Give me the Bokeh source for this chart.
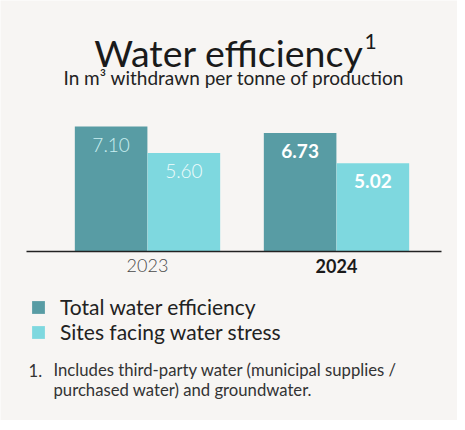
from bokeh.plotting import figure
from bokeh.models import ColumnDataSource, Range1d, Label, Legend, LegendItem
from bokeh.core.properties import value
from bokeh.embed import file_html
from bokeh.resources import INLINE

# ---- data ----
years = ["2023", "2024"]
series = ["Total water efficiency", "Sites facing water stress"]
total = [7.10, 6.73]
stress = [5.60, 5.02]
colors = ["#589ca4", "#7ed8df"]

FONT = "Lato"
BG = "#f7f5f3"

W, H = 457, 420
px_unit_x = 189.0
grp0 = 147.0
px_unit_y = 17.6
base_y = 251.0

p = figure(width=W, height=H, output_backend="svg", toolbar_location=None,
           x_range=Range1d(-grp0 / px_unit_x, (W - grp0) / px_unit_x),
           y_range=Range1d(-(H - base_y) / px_unit_y, base_y / px_unit_y),
           min_border=0, min_border_left=0, min_border_right=0,
           min_border_top=0, min_border_bottom=0)
p.axis.visible = False
p.grid.visible = False
p.outline_line_color = None
p.background_fill_color = BG
p.border_fill_color = BG

xs = list(range(len(years)))
bw = 0.384
dx = 0.1925
src = ColumnDataSource(dict(
    x=xs, years=years, total=total, stress=stress,
    x_t=[x - dx for x in xs], x_s=[x + dx for x in xs],
    lab_t=[f"{v:.2f}" for v in total], lab_s=[f"{v:.2f}" for v in stress],
    col_t=["#c9eef0", "#ffffff"], col_s=["#f0fcfc", "#ffffff"],
    style=["normal", "bold"], ycol=["#4a4a4a", "#1a1a1a"],
    fonts=["Lato Light", "Lato"],
    zero=[0] * len(years),
))

r1 = p.vbar(x="x_t", top="total", width=bw, source=src, color=colors[0], line_color=None)
r2 = p.vbar(x="x_s", top="stress", width=bw, source=src, color=colors[1], line_color=None)

p.text(x="x_t", y="total", text="lab_t", source=src, text_align="center",
       text_baseline="middle", y_offset=18, text_font="fonts", text_font_size="19px",
       text_color="col_t", text_font_style="style")
p.text(x="x_s", y="stress", text="lab_s", source=src, text_align="center",
       text_baseline="middle", y_offset=18, text_font="fonts", text_font_size="19px",
       text_color="col_s", text_font_style="style")

# axis baseline
p.segment(x0=[(26 - grp0) / px_unit_x], x1=[(441 - grp0) / px_unit_x], y0=[0], y1=[0],
          line_color="#222222", line_width=1.5)

# year labels
p.text(x="x", y="zero", text="years", source=src, text_align="center",
       text_baseline="middle", y_offset=14, text_font="fonts", text_font_size="18px",
       text_color="ycol", text_font_style="style")

# titles
p.add_layout(Label(x=363, y=H - 51.5, x_units="screen", y_units="screen",
                   text="Water efficiency", text_align="right",
                   text_baseline="alphabetic", text_font=FONT, text_font_size="37.5px",
                   text_color="#1a1a1a"))
p.add_layout(Label(x=364, y=H - 41, x_units="screen", y_units="screen",
                   text="1", text_align="left",
                   text_baseline="alphabetic", text_font=FONT, text_font_size="21px",
                   text_color="#1a1a1a"))
p.add_layout(Label(x=233.5, y=H - 77, x_units="screen", y_units="screen",
                   text="In m\u00b3 withdrawn per tonne of production", text_align="center",
                   text_baseline="alphabetic", text_font=FONT, text_font_size="19px",
                   text_color="#222222"))

# legend (one entry per legend box, to control the tight line pitch)
leg_style = dict(orientation="vertical", glyph_width=16, glyph_height=16,
                 label_standoff=14, label_text_font=FONT, label_text_font_size="21px",
                 label_text_line_height=1.0, label_text_color="#222222",
                 spacing=0, padding=0, margin=0, background_fill_alpha=0,
                 border_line_color=None, label_height=16)
legend1 = Legend(items=[LegendItem(label=series[0], renderers=[r1])],
                 location=(30, 101), **leg_style)
legend2 = Legend(items=[LegendItem(label=series[1], renderers=[r2])],
                 location=(30, 76), **leg_style)
p.add_layout(legend1, "center")
p.add_layout(legend2, "center")

# footnote
p.add_layout(Label(x=28, y=H - 369.5, x_units="screen", y_units="screen", text="1.",
                   text_baseline="alphabetic", text_font=FONT, text_font_size="16.7px",
                   text_color="#333333"))
p.add_layout(Label(x=53, y=H - 369.5, x_units="screen", y_units="screen",
                   text="Includes third-party water (municipal supplies /",
                   text_baseline="alphabetic", text_font=FONT, text_font_size="16.7px",
                   text_color="#333333"))
p.add_layout(Label(x=53, y=H - 389.5, x_units="screen", y_units="screen",
                   text="purchased water) and groundwater.",
                   text_baseline="alphabetic", text_font=FONT, text_font_size="16.7px",
                   text_color="#333333"))

open("out.html", "w").write(file_html(p, INLINE))
